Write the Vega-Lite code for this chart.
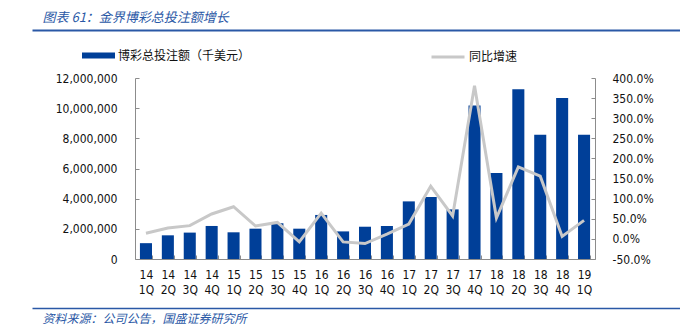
{
  "$schema": "https://vega.github.io/schema/vega-lite/v6.json",
  "autosize": {"type": "none"},
  "width": 460,
  "height": 181,
  "padding": {"left": 135, "top": 78, "right": 85, "bottom": 76},
  "background": "white",
  "config": {
    "view": {"stroke": null},
    "font": "DejaVu Sans Condensed, DejaVu Sans"
  },
  "data": {
    "values": [
      {"q": "14 1Q", "v": 1050000, "g": 0.14},
      {"q": "14 2Q", "v": 1570000, "g": 0.27},
      {"q": "14 3Q", "v": 1750000, "g": 0.33},
      {"q": "14 4Q", "v": 2190000, "g": 0.62},
      {"q": "15 1Q", "v": 1770000, "g": 0.80},
      {"q": "15 2Q", "v": 2010000, "g": 0.32},
      {"q": "15 3Q", "v": 2370000, "g": 0.41},
      {"q": "15 4Q", "v": 2010000, "g": -0.075},
      {"q": "16 1Q", "v": 2920000, "g": 0.64},
      {"q": "16 2Q", "v": 1830000, "g": -0.075},
      {"q": "16 3Q", "v": 2140000, "g": -0.115},
      {"q": "16 4Q", "v": 2190000, "g": 0.12},
      {"q": "17 1Q", "v": 3820000, "g": 0.37},
      {"q": "17 2Q", "v": 4110000, "g": 1.31},
      {"q": "17 3Q", "v": 3290000, "g": 0.57},
      {"q": "17 4Q", "v": 10170000, "g": 3.81},
      {"q": "18 1Q", "v": 5700000, "g": 0.52},
      {"q": "18 2Q", "v": 11250000, "g": 1.79},
      {"q": "18 3Q", "v": 8240000, "g": 1.56},
      {"q": "18 4Q", "v": 10680000, "g": 0.06},
      {"q": "19 1Q", "v": 8240000, "g": 0.46}
    ]
  },
  "layer": [
    {
      "mark": {"type": "bar", "color": "#003F98"},
      "encoding": {
        "x": {
          "field": "q", "type": "nominal", "sort": null,
          "scale": {"type": "band", "paddingInner": 0.45, "paddingOuter": 0.225},
          "axis": {
            "title": null,
            "labelAngle": 0,
            "labelExpr": "split(datum.label, ' ')",
            "labelLineHeight": 15,
            "labelFontSize": 12,
            "labelColor": "#111111",
            "labelPadding": 14,
            "domainColor": "#8C8C8C",
            "tickColor": "#8C8C8C",
            "tickBand": "extent",
            "tickSize": -4
          }
        },
        "y": {
          "field": "v", "type": "quantitative",
          "scale": {"domain": [0, 12000000], "nice": false},
          "axis": {
            "title": null,
            "orient": "left",
            "values": [0, 2000000, 4000000, 6000000, 8000000, 10000000, 12000000],
            "labelExpr": "format(datum.value, ',.0f')",
            "labelFontSize": 12,
            "labelColor": "#111111",
            "labelPadding": 22,
            "domainColor": "#8C8C8C",
            "tickColor": "#8C8C8C",
            "tickSize": -4,
            "grid": false
          }
        },
        "color": {
          "datum": "博彩总投注额（千美元）", "type": "nominal",
          "scale": {"range": ["#003F98"]},
          "legend": {
            "title": null,
            "orient": "none",
            "legendX": -53,
            "legendY": -39,
            "padding": 0,
            "symbolType": "M-1,-0.18L1,-0.18L1,0.18L-1,0.18Z",
            "symbolSize": 1089,
            "symbolStrokeWidth": 0,
            "symbolOpacity": 1,
            "labelFont": "Noto Sans CJK SC",
            "labelFontSize": 12,
            "labelColor": "#111111",
            "labelOffset": 3
          }
        }
      }
    },
    {
      "mark": {"type": "line", "strokeWidth": 3},
      "encoding": {
        "x": {
          "field": "q", "type": "nominal", "sort": null,
          "scale": {"type": "band", "paddingInner": 0.45, "paddingOuter": 0.225},
          "axis": null
        },
        "y": {
          "field": "g", "type": "quantitative",
          "scale": {"domain": [-0.5, 4], "nice": false, "zero": false},
          "axis": {
            "title": null,
            "orient": "right",
            "values": [-0.5, 0, 0.5, 1, 1.5, 2, 2.5, 3, 3.5, 4],
            "labelExpr": "replace(format(datum.value, '.1%'), '−', '-')",
            "labelFontSize": 12,
            "labelColor": "#111111",
            "labelPadding": 21,
            "domainColor": "#8C8C8C",
            "tickColor": "#8C8C8C",
            "tickSize": -4,
            "grid": false
          }
        },
        "stroke": {
          "datum": "同比增速", "type": "nominal",
          "scale": {"range": ["#C8C8C8"]},
          "legend": {
            "title": null,
            "orient": "none",
            "legendX": 295,
            "legendY": -39,
            "padding": 0,
            "symbolType": "stroke",
            "symbolSize": 1089,
            "symbolStrokeWidth": 3,
            "labelFont": "Noto Sans CJK SC",
            "labelFontSize": 12,
            "labelColor": "#111111",
            "labelOffset": 3
          }
        }
      }
    },
    {
      "data": {"values": []},
      "mark": {"type": "rule"},
      "encoding": {
        "x": {
          "field": "p", "type": "quantitative",
          "scale": {"domain": [0, 1], "range": [-103, 545], "nice": false, "zero": false},
          "axis": {
            "orient": "top",
            "offset": 48,
            "labels": false,
            "ticks": false,
            "grid": false,
            "domainColor": "#2A58A6",
            "domainWidth": 2,
            "title": "图表 61：金界博彩总投注额增长",
            "titleFont": "Noto Sans CJK SC",
            "titleFontSize": 13,
            "titleFontStyle": "italic",
            "titleFontWeight": "normal",
            "titleColor": "#2A58A6",
            "titleAlign": "left",
            "titleBaseline": "middle",
            "titleAnchor": "start",
            "titleX": -93,
            "titleY": -13
          }
        }
      }
    },
    {
      "data": {"values": []},
      "mark": {"type": "rule"},
      "encoding": {
        "x": {
          "field": "p", "type": "quantitative",
          "scale": {"domain": [0, 1], "range": [-103, 545], "nice": false, "zero": false},
          "axis": {
            "orient": "bottom",
            "offset": 49,
            "labels": false,
            "ticks": false,
            "grid": false,
            "domainColor": "#2A58A6",
            "domainWidth": 1.5,
            "title": "资料来源：公司公告，国盛证券研究所",
            "titleFont": "Noto Sans CJK SC",
            "titleFontSize": 12,
            "titleFontStyle": "italic",
            "titleFontWeight": "normal",
            "titleColor": "#2A58A6",
            "titleAlign": "left",
            "titleBaseline": "middle",
            "titleAnchor": "start",
            "titleX": -93,
            "titleY": 10
          }
        }
      }
    }
  ],
  "resolve": {
    "scale": {"x": "independent", "y": "independent", "color": "independent", "stroke": "independent"},
    "axis": {"x": "independent", "y": "independent"}
  }
}
